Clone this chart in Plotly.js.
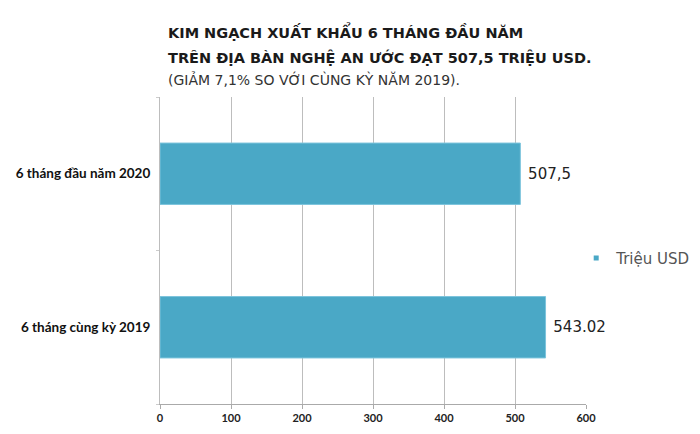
<!DOCTYPE html>
<html>
<head>
<meta charset="utf-8">
<script src="https://cdn.plot.ly/plotly-3.0.1.min.js"></script>
<style>
  body { margin: 0; background: #fff; }
  #chart { width: 700px; height: 434px; }
</style>
</head>
<body>
<div id="chart"></div>
<script>
// dữ liệu
const categories = ['6 tháng cùng kỳ 2019', '6 tháng đầu năm 2020'];
const values = [543.02, 507.5];
const valueLabels = ['543.02', '507,5'];
const seriesName = 'Triệu USD';
const tickValues = [0, 100, 200, 300, 400, 500, 600];

const titleLines = [
  'KIM NGẠCH XUẤT KHẨU 6 THÁNG ĐẦU NĂM',
  'TRÊN ĐỊA BÀN NGHỆ AN ƯỚC ĐẠT 507,5 TRIỆU USD.',
  '(GIẢM 7,1% SO VỚI CÙNG KỲ NĂM 2019).'
];

const barColor = '#4aa8c6';

const bars = {
  type: 'bar',
  orientation: 'h',
  x: values,
  y: categories,
  text: valueLabels,
  texttemplate: '\u00a0%{text}',
  textposition: 'outside',
  cliponaxis: false,
  textfont: { family: 'DejaVu Sans', size: 15, color: '#222' },
  marker: { color: barColor, line: { color: '#7cc4dc', width: 1 } },
  showlegend: false,
  hoverinfo: 'x+y'
};

// chỉ để hiện chú thích với ô vuông nhỏ
const legendTrace = {
  type: 'scatter',
  mode: 'markers',
  x: [null],
  y: [null],
  name: seriesName,
  marker: { symbol: 'square', size: 5, color: barColor }
};

const annotations = [
  { text: titleLines[0], y: 1.212, font: { family: 'DejaVu Sans', size: 14.5, weight: 700, color: '#1a1a1a' } },
  { text: titleLines[1], y: 1.130, font: { family: 'DejaVu Sans', size: 14.5, weight: 700, color: '#1a1a1a' } },
  { text: titleLines[2], y: 1.058, font: { family: 'DejaVu Sans', size: 14, color: '#333' } }
].map(a => Object.assign({
  xref: 'paper', yref: 'paper', x: 0.014, xanchor: 'left', yanchor: 'middle', showarrow: false
}, a));

const layout = {
  width: 700,
  height: 434,
  margin: { l: 160, r: 114, t: 97, b: 30, autoexpand: false },
  paper_bgcolor: '#fff',
  plot_bgcolor: '#fff',
  bargap: 0.6,
  xaxis: {
    range: [0, 600],
    tickvals: tickValues,
    showgrid: true,
    gridcolor: '#bdbdbd',
    gridwidth: 1,
    zeroline: false,
    showline: true,
    linecolor: '#aaa',
    ticks: 'outside',
    ticklen: 4,
    tickcolor: '#aaa',
    tickfont: { family: 'Lato', size: 11, weight: 700, color: '#222' },
    fixedrange: true
  },
  yaxis: {
    type: 'category',
    showgrid: false,
    showline: true,
    linecolor: '#bdbdbd',
    ticks: 'outside',
    tickson: 'boundaries',
    ticklen: 3,
    tickcolor: '#ccc',
    ticklabelstandoff: 6,
    tickfont: { family: 'Lato', size: 13.5, weight: 700, color: '#111' },
    fixedrange: true
  },
  legend: {
    x: 0.977,
    y: 0.475,
    xanchor: 'left',
    yanchor: 'middle',
    font: { family: 'DejaVu Sans', size: 15, color: '#555' },
    bgcolor: 'rgba(0,0,0,0)'
  },
  annotations: annotations
};

Plotly.newPlot('chart', [bars, legendTrace], layout, { displayModeBar: false, staticPlot: true });
</script>
</body>
</html>
